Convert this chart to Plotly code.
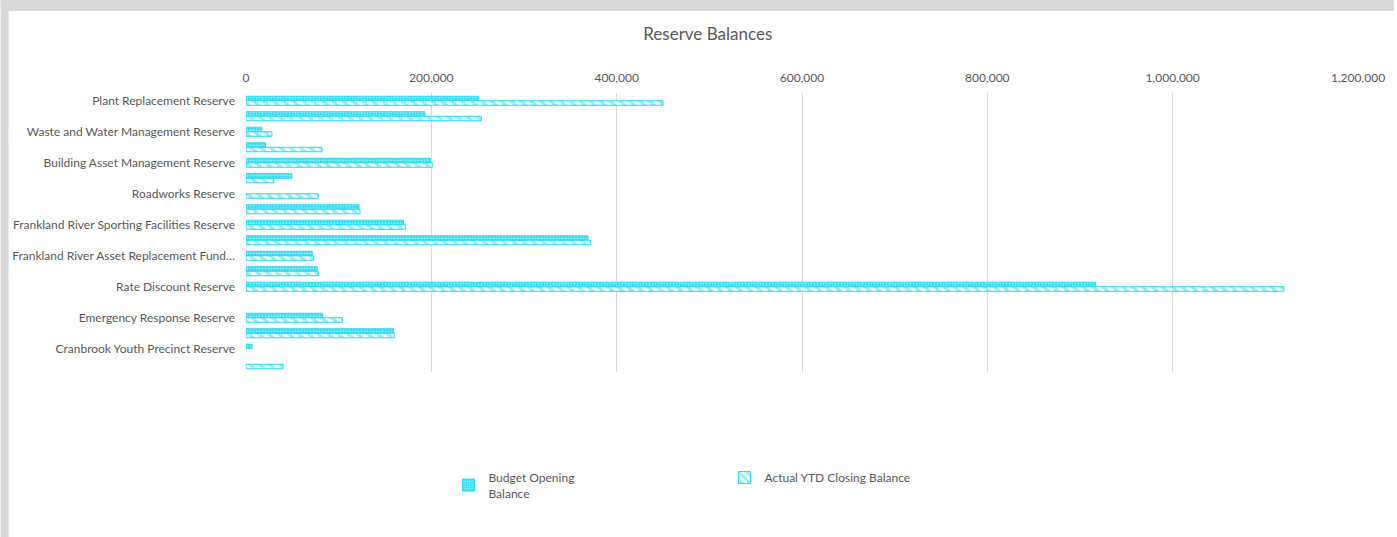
import plotly.graph_objects as go

# Reserve names, top to bottom (every second one gets a visible label)
categories = [
    "Plant Replacement Reserve",
    "Staff Leave Reserve",
    "Waste and Water Management Reserve",
    "Community Bus Reserve",
    "Building Asset Management Reserve",
    "Footpath Reserve",
    "Roadworks Reserve",
    "Cranbrook Sporting Facilities Reserve",
    "Frankland River Sporting Facilities Reserve",
    "Swimming Pool Reserve",
    "Frankland River Asset Replacement Fund Reserve",
    "Information Technology Reserve",
    "Rate Discount Reserve",
    "Economic Development Reserve",
    "Emergency Response Reserve",
    "Aged Housing Reserve",
    "Cranbrook Youth Precinct Reserve",
    "Townscape Reserve",
]

tick_labels = [
    "Plant Replacement Reserve",
    "Waste and Water Management Reserve",
    "Building Asset Management Reserve",
    "Roadworks Reserve",
    "Frankland River Sporting Facilities Reserve",
    "Frankland River Asset Replacement Fund…",
    "Rate Discount Reserve",
    "Emergency Response Reserve",
    "Cranbrook Youth Precinct Reserve",
]

budget_opening = [251000, 193000, 17000, 21000, 199000, 49500, 0, 122000, 170000,
                  369000, 71500, 77000, 917000, 0, 82500, 159000, 6500, 0]
actual_closing = [450000, 254000, 28000, 82000, 201000, 30000, 78000, 123000, 172000,
                  372000, 73000, 78000, 1120000, 0, 104000, 160000, 0, 40000]

CYAN = "#26D9F2"
TEXT = "#595959"
FONT = "Lato"

W, H = 1397, 537
L, R, T, B = 246, 36, 93, 165
pw, ph = W - L - R, H - T - B


def outline_widths(values):
    # zero-valued bars get no outline so nothing is drawn for them
    return [0 if v == 0 else 1 for v in values]


fig = go.Figure()
fig.add_trace(go.Bar(
    name="Budget Opening<br>Balance",
    y=categories, x=budget_opening, orientation="h",
    marker=dict(
        color=CYAN,
        line=dict(color=CYAN, width=outline_widths(budget_opening)),
        pattern=dict(shape=".", fgcolor="white", bgcolor=CYAN, size=3, solidity=0.45),
    ),
))
fig.add_trace(go.Bar(
    name="Actual YTD Closing Balance",
    y=categories, x=actual_closing, orientation="h",
    marker=dict(
        color=CYAN,
        line=dict(color=CYAN, width=outline_widths(actual_closing)),
        pattern=dict(shape="\\", fgcolor=CYAN, bgcolor="white", size=7, solidity=0.5),
    ),
))

# light grey frame along the left and top edges
frame = [
    dict(x0=0, x1=8, y0=0, y1=H),
    dict(x0=0, x1=W, y0=0, y1=11),
]
shapes = []
for f in frame:
    shapes.append(dict(
        type="rect", xref="paper", yref="paper", layer="below",
        x0=(f["x0"] - L) / pw, x1=(f["x1"] - L) / pw,
        y0=(H - B - f["y1"]) / ph, y1=(H - B - f["y0"]) / ph,
        fillcolor="#D9D9D9", line=dict(width=0),
    ))

fig.update_layout(
    width=W, height=H,
    margin=dict(l=L, r=R, t=T, b=B, pad=0),
    paper_bgcolor="white", plot_bgcolor="white",
    barmode="group", bargap=0.42, bargroupgap=0,
    font=dict(family=FONT, size=12, color=TEXT),
    title=dict(text="Reserve Balances", x=(709 - L) / pw, xref="paper", xanchor="center",
               y=1 - 34 / H, yanchor="middle", font=dict(size=17, color=TEXT, family=FONT)),
    xaxis=dict(
        side="top", range=[0, 1200000], dtick=200000, tick0=0,
        tickformat=",d", showgrid=True, gridcolor="#D9D9D9", gridwidth=1,
        zeroline=False, showline=False, ticks="", ticklabelstandoff=8,
        tickfont=dict(size=12, color=TEXT),
    ),
    yaxis=dict(
        autorange="reversed", type="category",
        tickmode="array", tickvals=categories[::2], ticktext=tick_labels,
        showgrid=False, zeroline=False, showline=False, ticks="",
        ticklabelstandoff=10, tickfont=dict(size=12, color=TEXT),
    ),
    legend=dict(
        orientation="h", x=(449 - L) / pw, xanchor="left",
        y=(H - B - 463) / ph, yanchor="top",
        entrywidthmode="pixels", entrywidth=231,
        font=dict(size=12, color=TEXT), traceorder="normal",
        bgcolor="rgba(0,0,0,0)",
    ),
    shapes=shapes,
)

fig.write_html(
    "out.html",
    post_script="document.documentElement.style.overflow='hidden';"
                "document.body.style.overflow='hidden';document.body.style.margin='0';",
)
